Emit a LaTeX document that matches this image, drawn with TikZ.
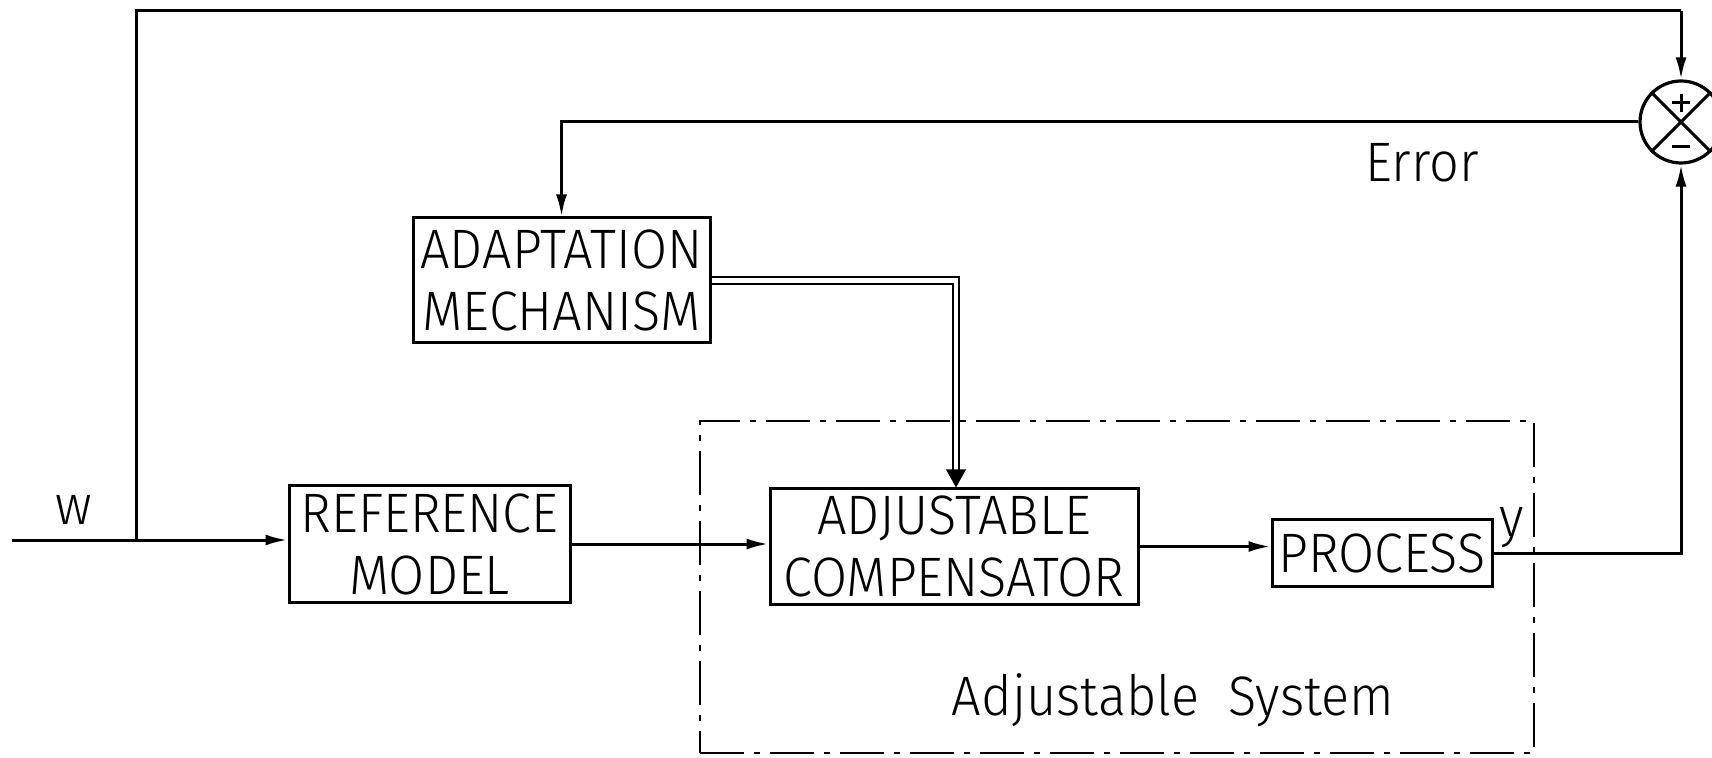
\documentclass[tikz,border=0pt]{standalone}
\usepackage{fontspec}
\setmainfont[FakeStretch=0.94]{Fira Sans Light}
\usetikzlibrary{arrows.meta,calc}
\tikzset{
  blk/.style={draw, line width=1.5pt, inner sep=0pt, align=center,
    font=\fontsize{27.8}{31}\selectfont},
  arr/.style={line width=1.5pt, -{Latex[length=11pt,width=5.5pt]}},
  ln/.style={line width=1.5pt},
  dbl/.style={double, double distance=2.2pt, line width=1pt},
  sysbox/.style={draw, line width=1.1pt, dash pattern=on 22pt off 5pt on 3pt off 5pt, inner sep=0pt},
  lbl/.style={inner sep=0pt, font=\fontsize{27.8}{31}\selectfont},
  sumj/.style={draw, circle, line width=1.6pt, minimum size=41pt, inner sep=0pt}
}
\begin{document}
\begin{tikzpicture}[x=0.5pt,y=-0.5pt]
\useasboundingbox (0,0) rectangle (1712,758);
% adjustable system frame
\node[sysbox, minimum width=417pt, minimum height=166pt] (adj) at (1117,587) {};
\node[lbl] (adjl) at (1173,700) {Adjustable\ \ System};
% blocks
\node[blk, minimum width=140.5pt, minimum height=58pt] (ref) at (429.5,544) {REFERENCE\\MODEL};
\node[blk, minimum width=148.5pt, minimum height=62.5pt] (adapt) at (561.5,280.5) {ADAPTATION\\MECHANISM};
\node[blk, minimum width=184pt, minimum height=57.5pt] (comp) at (954,546.5) {ADJUSTABLE\\COMPENSATOR};
\node[blk, minimum width=110pt, minimum height=33pt] (proc) at (1382,553) {PROCESS};
\node[sumj] (sum) at (1681,122) {};
\draw[ln] (sum.north west) -- (sum.south east);
\draw[ln] (sum.north east) -- (sum.south west);
\draw[ln] ($(sum.center)+(-9,-19)$) -- ($(sum.center)+(9,-19)$);
\draw[ln] ($(sum.center)+(0,-28)$) -- ($(sum.center)+(0,-10)$);
\draw[ln] ($(sum.center)+(-9,25)$) -- ($(sum.center)+(9,25)$);
% labels
\node[lbl] (wl) at (74,510) {w};
\node[lbl] (yl) at (1512,528) {y};
\node[lbl] (errl) at (1422,163) {Error};
% connectors
\coordinate (in) at (12,540);
\coordinate (jw) at (136,540);
\coordinate (tr) at (1681,11);
\draw[ln] (in) -- (jw);
\draw[arr] (jw) -- (ref.west |- jw);
\draw[ln] (jw) |- (tr);
\draw[arr] (tr) -- (sum.north);
\draw[arr] (ref.east) -- (ref.east -| comp.west);
\draw[arr] (comp.east) -- (comp.east -| proc.west);
\draw[arr] (proc.east) -| (sum.south);
\draw[arr] (sum.west) -| (adapt.north);
\coordinate (dbend) at (956,280.5);
\draw[dbl] (adapt.east) -- (dbend) -- ($(dbend |- comp.north)+(0,-16)$);
\fill ($(dbend |- comp.north)$) -- ++(-10,-18) -- ++(20,0) -- cycle;
\end{tikzpicture}
\end{document}
